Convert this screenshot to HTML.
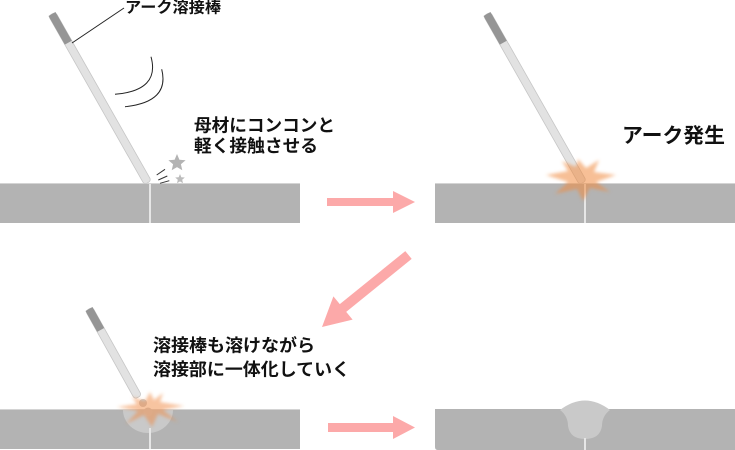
<!DOCTYPE html>
<html>
<head>
<meta charset="utf-8">
<style>
  html, body { margin: 0; padding: 0; background: #ffffff; }
  body { width: 735px; height: 450px; overflow: hidden; }
  svg { display: block; }
  .t { font-family: "Liberation Sans", "Noto Sans CJK JP", sans-serif; font-weight: bold; fill: #111; }
</style>
</head>
<body>
<svg width="735" height="450" viewBox="0 0 735 450" xmlns="http://www.w3.org/2000/svg">
  <defs>
    <filter id="soft" x="-30%" y="-30%" width="160%" height="160%">
      <feGaussianBlur stdDeviation="1.6"/>
    </filter>
  </defs>
  <!-- ===== Panel 1 ===== -->
  <rect x="0" y="183" width="300" height="40" fill="#b3b3b3"/>
  <line x1="0" y1="183.5" x2="300" y2="183.5" stroke="#d4d4d4" stroke-width="1"/>
  <rect x="149" y="184" width="2" height="39" fill="#e6e6e6"/>

  <!-- electrode 1 -->
  <g transform="translate(52,14) rotate(60.4)">
    <rect x="0" y="-4" width="194" height="8" rx="3" fill="#e2e2e2" stroke="#c6c6c6" stroke-width="0.8"/>
    <rect x="0" y="-4" width="33" height="8" fill="#959595"/>
  </g>

  <!-- callout -->
  <line x1="72" y1="43" x2="124" y2="8" stroke="#222" stroke-width="1"/>
  <text class="t" x="125" y="12.5" font-size="15.5" textLength="96" lengthAdjust="spacingAndGlyphs">アーク溶接棒</text>

  <!-- swing arcs -->
  <path d="M115,94.3 Q160.3,90.5 151,56.7" fill="none" stroke="#222" stroke-width="1"/>
  <path d="M125,106.7 Q170,102 161.7,69.3" fill="none" stroke="#222" stroke-width="1"/>

  <!-- stars -->
  <polygon fill="#b3b3b3" points="177,154 179.4,159.7 185.6,160.2 180.9,164.3 182.3,170.3 177,167.1 171.7,170.3 173.1,164.3 168.4,160.2 174.6,159.7"/>
  <polygon fill="#bcbcbc" points="180,174 181.3,177.2 184.8,177.5 182.2,179.8 183,183.2 180,181.4 177,183.2 177.8,179.8 175.2,177.5 178.7,177.2"/>
  <line x1="156.7" y1="175" x2="165" y2="169.3" stroke="#333" stroke-width="1"/>
  <line x1="158.3" y1="180" x2="167.3" y2="176" stroke="#333" stroke-width="1"/>
  <line x1="160" y1="183.3" x2="169.3" y2="180.7" stroke="#333" stroke-width="1"/>

  <text class="t" x="194" y="131.5" font-size="17.5" textLength="141" lengthAdjust="spacingAndGlyphs">母材にコンコンと</text>
  <text class="t" x="194" y="152" font-size="17.5" textLength="124" lengthAdjust="spacingAndGlyphs">軽く接触させる</text>

  <!-- arrow 1 -->
  <polygon fill="#fca9a9" points="327,198 393,198 393,191 415,202 393,213 393,206 327,206"/>

  <!-- ===== Panel 2 ===== -->
  <rect x="435" y="183" width="300" height="40" fill="#b3b3b3"/>
  <line x1="435" y1="183.5" x2="735" y2="183.5" stroke="#d4d4d4" stroke-width="1"/>
  <rect x="584" y="184" width="2" height="39" fill="#e6e6e6"/>

  <g transform="translate(487,14) rotate(60.4)">
    <rect x="0" y="-4" width="194" height="8" rx="3" fill="#e2e2e2" stroke="#c6c6c6" stroke-width="0.8"/>
    <rect x="0" y="-4" width="33" height="8" fill="#959595"/>
  </g>

  <polygon fill="#f08a40" fill-opacity="0.55" filter="url(#soft)"
    points="546,175 568,171 562,161 576,167 578,159 586,168 599,160 594,172 616,175 596,182 610,192 590,188 583,201 577,189 555,194 568,182"/>

  <text class="t" x="622" y="142.5" font-size="20.5" textLength="103" lengthAdjust="spacingAndGlyphs">アーク発生</text>

  <!-- arrow 2 (diagonal) -->
  <polygon fill="#fca9a9"
    points="405.3,251.1 411.7,258.9 346.2,311.9 352.6,319.6 322,327 333.4,296.4 339.8,304.1"/>

  <!-- ===== Panel 3 ===== -->
  <rect x="0" y="409" width="300" height="40" fill="#b3b3b3"/>
  <line x1="0" y1="409.5" x2="300" y2="409.5" stroke="#d4d4d4" stroke-width="1"/>
  <path d="M123,410 A25,23 0 0 0 173,410 Z" fill="#c9c9c9"/>
  <rect x="149" y="428" width="2" height="21" fill="#e6e6e6"/>

  <g transform="translate(89,309) rotate(60.9)">
    <rect x="0" y="-4" width="101" height="8" rx="3" fill="#e2e2e2" stroke="#c6c6c6" stroke-width="0.8"/>
    <rect x="0" y="-4" width="24" height="8" fill="#959595"/>
  </g>
  <circle cx="143" cy="403" r="4" fill="#cccccc"/>
  <circle cx="148" cy="412" r="4.5" fill="#cccccc"/>

  <polygon fill="#f08a40" fill-opacity="0.5" filter="url(#soft)"
    points="117,407 137,404 132,397 145,401 150,392 154,400 163,393 160,402 184,406 163,410 178,422 158,414 152,427 144,415 126,424 138,411"/>

  <text class="t" x="153" y="351.5" font-size="17.5" textLength="162" lengthAdjust="spacingAndGlyphs">溶接棒も溶けながら</text>
  <text class="t" x="153" y="375.5" font-size="17.5" textLength="197" lengthAdjust="spacingAndGlyphs">溶接部に一体化していく</text>

  <!-- arrow 3 -->
  <polygon fill="#fca9a9" points="328,423 393,423 393,416 415,427.5 393,439 393,432 328,432"/>

  <!-- ===== Panel 4 ===== -->
  <path d="M435,409 H735 V450 H438 Q435,450 435,447 Z" fill="#b3b3b3"/>
  <path d="M560,410 Q585,391 610,410 Q602,416 602,426 Q600,439 585,439 Q570,439 568,426 Q568,416 560,410 Z" fill="#c9c9c9"/>
  <rect x="584" y="438" width="2" height="12" fill="#e6e6e6"/>
</svg>
</body>
</html>
